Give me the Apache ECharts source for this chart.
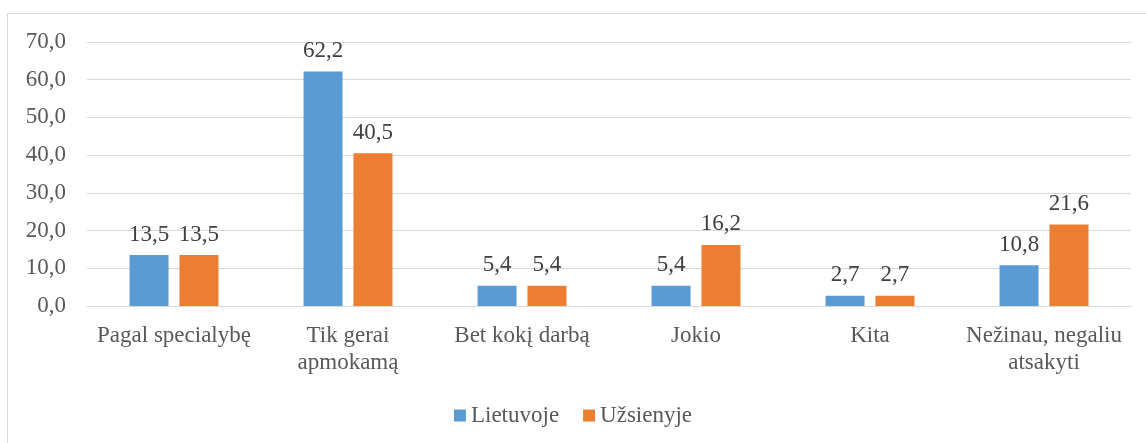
<!DOCTYPE html>
<html>
<head>
<meta charset="utf-8">
<script src="https://cdn.jsdelivr.net/npm/echarts@6/dist/echarts.min.js"></script>
<style>
  html, body { margin: 0; padding: 0; background: #fff; }
  #main { width: 1146px; height: 443px; }
</style>
</head>
<body>
<div id="main"></div>
<script>
// data
var categories = ['Pagal specialybę', 'Tik gerai\napmokamą', 'Bet kokį darbą', 'Jokio', 'Kita', 'Nežinau, negaliu\natsakyti'];
var lietuvoje = [13.5, 62.2, 5.4, 5.4, 2.7, 10.8];
var uzsienyje = [13.5, 40.5, 5.4, 16.2, 2.7, 21.6];
var seriesNames = ['Lietuvoje', 'Užsienyje'];

var font = '"Liberation Serif", "Times New Roman", serif';
var textColor = '#595959';

function fmt(v) {
    return v.toFixed(1).replace('.', ',');
}

var myChart = echarts.init(document.getElementById('main'));

var option = {
    animation: false,
    textStyle: { fontFamily: font },
    graphic: [{
        type: 'rect',
        shape: { x: 7.5, y: 13.5, width: 1160, height: 440 },
        style: { fill: 'none', stroke: '#d9d9d9', lineWidth: 1 },
        silent: true
    }],
    legend: {
        data: seriesNames,
        top: 399,
        left: 'center',
        itemWidth: 12,
        itemHeight: 12,
        itemGap: 24,
        icon: 'rect',
        textStyle: { fontFamily: font, fontSize: 23, color: textColor }
    },
    grid: { left: 87, right: 15, top: 42, bottom: 137 },
    xAxis: {
        type: 'category',
        data: categories,
        axisTick: { show: false },
        axisLine: { lineStyle: { color: '#d9d9d9', width: 1 } },
        axisLabel: {
            interval: 0,
            margin: 16,
            fontFamily: font,
            fontSize: 23,
            lineHeight: 27,
            color: textColor
        }
    },
    yAxis: {
        type: 'value',
        min: 0,
        max: 70,
        interval: 10,
        axisLine: { show: false },
        axisTick: { show: false },
        splitLine: { lineStyle: { color: '#d9d9d9', width: 1 } },
        axisLabel: {
            margin: 21,
            fontFamily: font,
            fontSize: 23,
            color: textColor,
            formatter: fmt
        }
    },
    series: [{
        name: seriesNames[0],
        type: 'bar',
        data: lietuvoje,
        barWidth: 39,
        barGap: '28%',
        itemStyle: { color: '#5B9BD5' },
        label: {
            show: true, position: 'top', distance: 9,
            fontFamily: font, fontSize: 23, color: '#404040',
            formatter: function (p) { return fmt(p.value); }
        }
    }, {
        name: seriesNames[1],
        type: 'bar',
        data: uzsienyje,
        barWidth: 39,
        itemStyle: { color: '#ED7D31' },
        label: {
            show: true, position: 'top', distance: 9,
            fontFamily: font, fontSize: 23, color: '#404040',
            formatter: function (p) { return fmt(p.value); }
        }
    }]
};

myChart.setOption(option);
</script>
</body>
</html>
